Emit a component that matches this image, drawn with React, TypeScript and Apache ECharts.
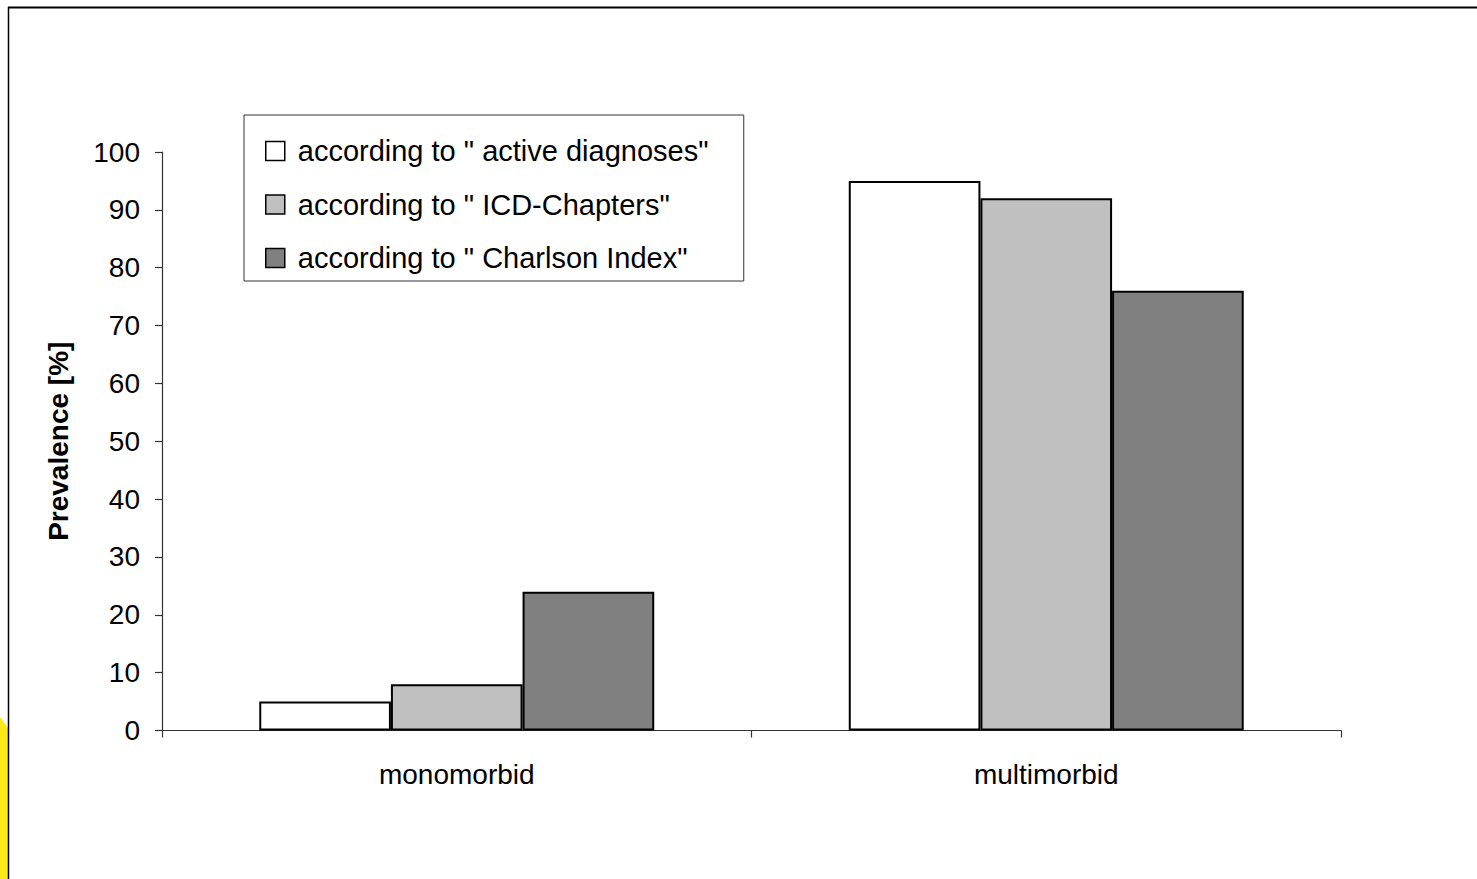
import React, { useEffect, useRef } from "react";
import * as echarts from "echarts";

// Groups on the category axis
const categories: string[] = ["monomorbid", "multimorbid"];

// Prevalence (%) by counting method
const activeDiagnoses: number[] = [5, 95];
const icdChapters: number[] = [8, 92];
const charlsonIndex: number[] = [24, 76];

const seriesNames: string[] = [
  'according to " active diagnoses"',
  'according to " ICD-Chapters"',
  'according to " Charlson Index"',
];

const yTicks = { min: 0, max: 100, interval: 10 };

const FONT = "'Liberation Sans', Arial, Helvetica, sans-serif";

export default function App() {
  const ref = useRef<HTMLDivElement>(null);

  useEffect(() => {
    if (!ref.current) return;
    const chart = echarts.init(ref.current, undefined, { renderer: "svg" });

    const barStyle = (color: string) => ({
      color,
      borderColor: "#000000",
      borderWidth: 2,
    });

    chart.setOption({
      animation: false,
      backgroundColor: "#ffffff",
      grid: { left: 162, right: 136, top: 152, bottom: 148.5, containLabel: false },
      legend: {
        orient: "vertical",
        left: 244,
        top: 115,
        padding: [21.5, 10, 8.5, 21],
        itemGap: 24.5,
        itemWidth: 19,
        itemHeight: 19,
        icon: "rect",
        backgroundColor: "#ffffff",
        borderColor: "#333333",
        borderWidth: 1,
        borderRadius: 0,
        selectedMode: false,
        itemStyle: { borderColor: "#000000", borderWidth: 1.5 },
        textStyle: {
          fontFamily: FONT,
          fontSize: 29,
          color: "#000000",
          width: 436,
          lineHeight: 29,
          padding: [0, 0, 0, 8],
        },
        data: seriesNames,
      },
      xAxis: {
        type: "category",
        data: categories,
        axisLine: { show: true, lineStyle: { color: "#333333", width: 1.2 } },
        axisTick: { show: true, length: 7, alignWithLabel: false, lineStyle: { color: "#333333", width: 1.2 } },
        axisLabel: { fontFamily: FONT, fontSize: 28, color: "#000000", margin: 30 },
        splitLine: { show: false },
      },
      yAxis: {
        type: "value",
        min: yTicks.min,
        max: yTicks.max,
        interval: yTicks.interval,
        name: "Prevalence [%]",
        nameLocation: "middle",
        nameRotate: 90,
        nameGap: 90,
        nameTextStyle: { fontFamily: FONT, fontSize: 28, fontWeight: "bold", color: "#000000" },
        axisLine: { show: true, lineStyle: { color: "#333333", width: 1.2 } },
        axisTick: { show: true, length: 7, lineStyle: { color: "#333333", width: 1.2 } },
        axisLabel: { fontFamily: FONT, fontSize: 28, color: "#000000", margin: 22 },
        splitLine: { show: false },
      },
      series: [
        {
          name: seriesNames[0],
          type: "bar",
          data: activeDiagnoses,
          barGap: "0%",
          barCategoryGap: "33%",
          itemStyle: barStyle("#ffffff"),
        },
        {
          name: seriesNames[1],
          type: "bar",
          data: icdChapters,
          barGap: "0%",
          barCategoryGap: "33%",
          itemStyle: barStyle("#c0c0c0"),
        },
        {
          name: seriesNames[2],
          type: "bar",
          data: charlsonIndex,
          barGap: "0%",
          barCategoryGap: "33%",
          itemStyle: barStyle("#808080"),
        },
      ],
      graphic: [
        {
          type: "polygon",
          silent: true,
          shape: { points: [[0, 717], [8, 728], [8, 879], [0, 879]] },
          style: { fill: "#ffe81a" },
        },
        {
          type: "line",
          silent: true,
          shape: { x1: 8, y1: 7.5, x2: 1477, y2: 7.5 },
          style: { stroke: "#000000", lineWidth: 2 },
        },
        {
          type: "line",
          silent: true,
          shape: { x1: 8.5, y1: 7, x2: 8.5, y2: 879 },
          style: { stroke: "#000000", lineWidth: 1.5 },
        },
      ],
    });

    return () => chart.dispose();
  }, []);

  return (
    <div
      ref={ref}
      style={{ position: "fixed", left: 0, top: 0, width: 1477, height: 879, background: "#ffffff" }}
    />
  );
}
